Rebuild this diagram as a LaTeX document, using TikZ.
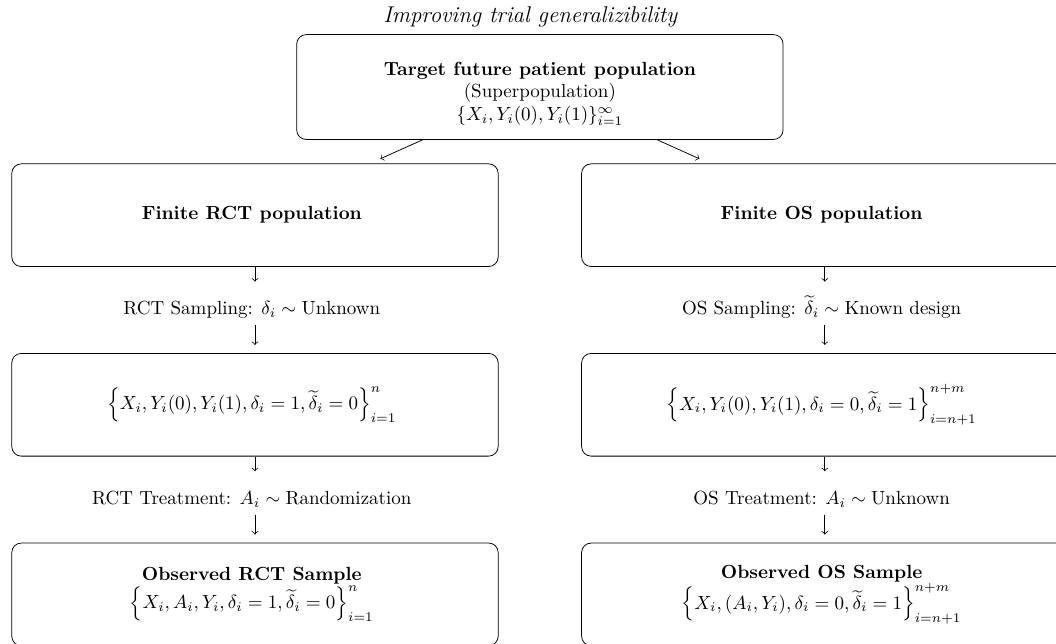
\documentclass[tikz,border=0pt]{standalone}
\usepackage{amsmath}
\usetikzlibrary{matrix,positioning}

\begin{document}
\begin{tikzpicture}[
box/.style={
  draw,
  rounded corners=5pt,
  minimum width=9cm,
  minimum height=1.9cm,
  align=center,
  anchor=center
  },
plain/.style={
  draw=none,
  fill=none,
  rounded corners=0pt,
  minimum width=0pt,
  minimum height=0pt,
  text height=12pt,
  text depth=0pt,
  inner ysep=5.3pt
  },
flow/.style={
  matrix of nodes,
  nodes={box},
  inner sep=0pt,
  column sep=1.53cm,
  row sep=0.28cm
  },
>=to
]
\useasboundingbox (0,0) rectangle (19.54,-11.9);

\matrix[flow] (mat) at (9.99,-7.49)
{
\textbf{Finite RCT population} & \textbf{Finite OS population} \\
|[plain]| RCT Sampling: $\delta_i \sim \text{Unknown}$ & |[plain]| OS Sampling: $\widetilde{\delta}_i \sim \text{Known design}$ \\[0.24cm]
$\left\{X_i, Y_i(0), Y_i(1), \delta_i=1, \widetilde{\delta}_i=0\right\}_{i=1}^{n}$ & $\left\{X_i, Y_i(0), Y_i(1), \delta_i=0, \widetilde{\delta}_i=1\right\}_{i=n+1}^{n+m}$ \\
|[plain]| RCT Treatment: $A_i \sim \text{Randomization}$ & |[plain]| OS Treatment: $A_i \sim \text{Unknown}$ \\[0.24cm]
\parbox{8cm}{\centering \textbf{Observed RCT Sample}\\ $\left\{X_i, A_i, Y_i, \delta_i=1, \widetilde{\delta}_i=0\right\}_{i=1}^{n}$} & \parbox{8cm}{\centering \textbf{Observed OS Sample}\\ $\left\{X_i, (A_i, Y_i), \delta_i=0, \widetilde{\delta}_i=1\right\}_{i=n+1}^{n+m}$} \\
};

\node[box, minimum height=1.94cm, above=0.43cm of mat] (target)
  {\rule{0pt}{14pt}\textbf{Target future patient population}\\ (Superpopulation)\\ $\{X_i, Y_i(0), Y_i(1)\}_{i=1}^{\infty}$};
\node[above=0pt of target, xshift=-0.18cm] (title) {\large\itshape Improving trial generalizibility};

\draw[->, shorten >=6pt] (target) -- (mat-1-1);
\draw[->, shorten >=6pt] (target) -- (mat-1-2);
\foreach \col in {1,2}
{
  \draw[->] (mat-1-\col) -- (mat-2-\col);
  \draw[->, shorten >=0.15cm] (mat-2-\col) -- (mat-3-\col);
  \draw[->] (mat-3-\col) -- (mat-4-\col);
  \draw[->, shorten >=0.15cm] (mat-4-\col) -- (mat-5-\col);
}
\end{tikzpicture}
\end{document}
